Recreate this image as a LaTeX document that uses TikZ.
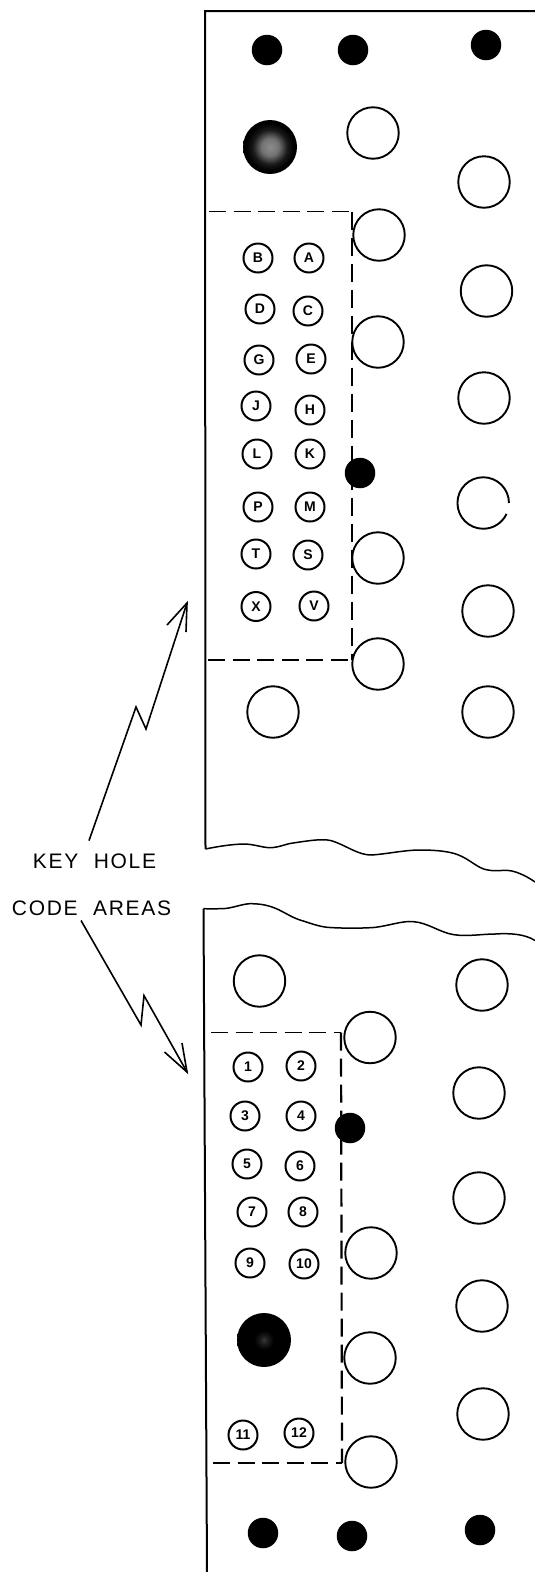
\documentclass[tikz,border=0pt]{standalone}
\usepackage{fontspec}
\setmainfont{Liberation Sans}
\newfontfamily\lblfont[LetterSpace=8]{Liberation Sans}
\pgfdeclareradialshading{bigtop}{\pgfpointorigin}{color(0bp)=(black!45); color(8bp)=(black!55); color(16bp)=(black!90); color(22bp)=(black); color(50bp)=(black)}
\pgfdeclareradialshading{bigbot}{\pgfpointorigin}{color(0bp)=(black!78); color(4bp)=(black!90); color(9bp)=(black); color(50bp)=(black)}
\tikzset{
  x=1pt,y=-1pt,
  frameline/.style={line width=2pt,black},
  wave/.style={line width=1.5pt,black},
  codebox/.style={line width=1.8pt,black,dash pattern=on 17pt off 7.5pt},
  codeside/.style={line width=2.2pt,black,dash pattern=on 18pt off 8pt},
  zig/.style={line width=1.6pt,black,line join=miter},
  hole/.style={circle,draw=black,line width=1.9pt,fill=white,minimum size=51.5pt,inner sep=0pt},
  openhole/.style={circle,fill=white,minimum size=51.5pt,inner sep=0pt},
  pin/.style={circle,fill=black,minimum size=30.5pt,inner sep=0pt},
  bigpin/.style={circle,minimum size=54pt,inner sep=0pt},
  key/.style={circle,draw=black,line width=2pt,fill=white,minimum size=29pt,inner sep=0pt,font=\fontsize{14}{14}\selectfont\bfseries},
  lbl/.style={inner sep=0pt,font=\fontsize{21}{22}\lblfont},
}
\begin{document}
\begin{tikzpicture}
\useasboundingbox[fill=white] (0,0) rectangle (535,1572);
% frame
\coordinate (tr) at (535,11);
\coordinate (tl) at (205,11);
\coordinate (bl1) at (205.5,849);
\coordinate (tl2) at (203.5,908.5);
\coordinate (bl2) at (207,1572);
\draw[frameline] (tr) -- (tl) -- (bl1);
\draw[frameline] (tl2) -- (bl2);
\draw[wave] (bl1) .. controls (225,845) and (237,844) .. (246,844)
  .. controls (258,845) and (265,848.5) .. (273,847.5)
  .. controls (282,846.5) and (287,843.5) .. (293,843)
  .. controls (310,840.5) and (322,838.5) .. (331,840.6)
  .. controls (345,844.5) and (358,855.5) .. (372,855)
  .. controls (390,853.5) and (405,850) .. (420,850)
  .. controls (437,850) and (449,851.5) .. (457,854.4)
  .. controls (470,859) and (478,869) .. (488,870)
  .. controls (498,872) and (505,869) .. (512,871)
  .. controls (520,873) and (528,877) .. (535,882);
\draw[wave] (tl2) .. controls (212,909.5) and (218,908.5) .. (225,908.5)
  .. controls (235,907.5) and (244,903.2) .. (252.5,903.7)
  .. controls (262,904) and (269,905.5) .. (276,908.5)
  .. controls (285,912.5) and (291,917) .. (300,920)
  .. controls (310,923) and (318,926.4) .. (328,927.4)
  .. controls (345,928.4) and (360,928.4) .. (375,927.4)
  .. controls (390,925.4) and (403,920.6) .. (413,921.6)
  .. controls (428,922.6) and (440,932.7) .. (454,934.7)
  .. controls (468,936.7) and (482,934) .. (495,934)
  .. controls (510,933) and (525,934) .. (535,940.5);
% dashed areas
\coordinate (a1) at (209,211.5); \coordinate (a2) at (352,211.5);
\coordinate (a3) at (352,660); \coordinate (a4) at (208,660);
\coordinate (b1) at (211,1032.5); \coordinate (b2) at (341,1032.5);
\coordinate (b3) at (342,1463); \coordinate (b4) at (213,1463);
\draw[codebox] (a1) -- (a2);
\draw[codeside] (a2) -- (a3);
\draw[codebox] (a4) -- (a3);
\draw[codebox] (b1) -- (b2);
\draw[codeside] (b2) -- (b3);
\draw[codebox] (b4) -- (b3);
% pins
\node[pin] (p1) at (267,50) {};
\node[pin] (p2) at (353,50) {};
\node[pin] (p3) at (486,45) {};
\node[pin] (p4) at (360,473) {};
\node[pin] (p5) at (350,1128) {};
\node[pin] (p6) at (263,1533) {};
\node[pin] (p7) at (352,1536) {};
\node[pin] (p8) at (480,1530) {};
\node[bigpin,shading=bigtop] (g1) at (270,147) {};
\node[bigpin,shading=bigbot] (g2) at (264,1340) {};
% holes
\foreach \n/\x/\y in {h1/373/133,h2/484/182,h3/379/235,h4/486.5/291,h5/378/342,h6/484/398,
  h8/378/558,h9/488/611,h10/378/664,h11/273/712,h12/488/712,
  j1/259.5/981,j2/482/985,j3/370/1037.5,j4/479/1093,j5/479/1198,j6/371/1253,j7/482/1306,j8/370/1358,j9/483/1414,j10/371/1462}
  \node[hole] (\n) at (\x,\y) {};
\node[openhole] (h7) at (483,503) {};
\draw[line width=1.9pt,black] (h7.east) arc[start angle=0,end angle=-335,radius=25.75];
% keys
\foreach \n/\x/\y in {B/258/258,A/309/258,D/260/309,C/308/311,G/259/360,E/311/359,J/256/406,H/310/410,L/257/454,K/310/454,P/258/507,M/310/507,T/256/554,S/308/555,X/256/606.5,V/314/606,1/248/1067,2/301/1066,3/245/1116,4/301/1116,5/247/1164,6/300/1166,7/252/1212,8/303/1212,9/250/1263,10/304/1264,11/243/1435,12/299/1433}
  \node[key] (k\n) at (\x,\y) {\n};
% labels
\node[lbl] (t1) at (94.5,861) {KEY\hspace{8pt} HOLE};
\node[lbl] (t2) at (91.5,908) {CODE\hspace{8pt} AREAS};
% arrows
\coordinate (s1) at (89,840.6); \coordinate (m1) at (136,707); \coordinate (m2) at (146,729);
\coordinate (e1) at (187,603); \coordinate (f1) at (167,625); \coordinate (f2) at (186,632);
\draw[zig] (s1) -- (m1) -- (m2) -- (e1);
\draw[zig] (f1) -- (e1) -- (f2);
\coordinate (s2) at (81,920.5); \coordinate (n1) at (141,1025); \coordinate (n2) at (144,995.6);
\coordinate (e2) at (187,1072); \coordinate (g3) at (164.5,1052); \coordinate (g4) at (182,1043);
\draw[zig] (s2) -- (n1) -- (n2) -- (e2);
\draw[zig] (g3) -- (e2) -- (g4);
\end{tikzpicture}
\end{document}
